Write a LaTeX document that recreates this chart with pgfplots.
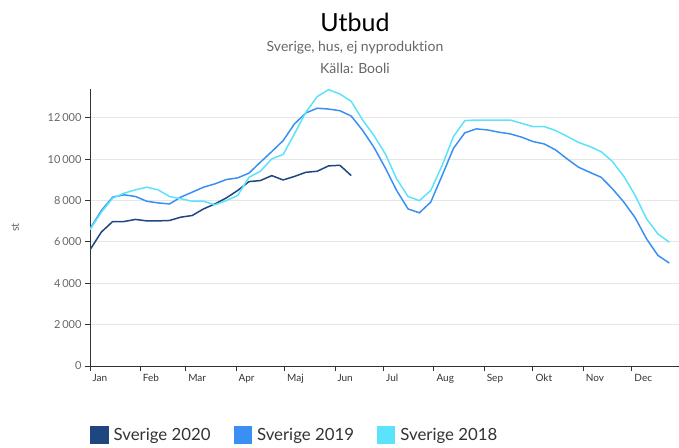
\documentclass[border=0pt]{standalone}
\usepackage{fontspec}
\setmainfont{Lato}[Ligatures={NoCommon,NoDiscretionary,NoRare}]
\usepackage{pgfplots}
\usepackage{pgfplotstable}
\pgfplotsset{compat=1.18}
\definecolor{c2020}{HTML}{1F467F}
\definecolor{c2019}{HTML}{3A90F2}
\definecolor{c2018}{HTML}{5BE3FC}
\definecolor{axisc}{HTML}{333333}
\definecolor{gridc}{HTML}{E6E6E6}
\definecolor{labc}{HTML}{666666}

\pgfplotstableread{
x y
0 5620
7 6480
14 6990
21 6990
28 7090
35 7020
42 7020
49 7040
56 7200
63 7280
70 7600
77 7840
84 8130
91 8490
98 8920
105 8970
112 9210
119 9000
126 9170
133 9370
140 9420
147 9680
154 9710
161 9210
}\sverigeA

\pgfplotstableread{
x y
0 6640
7 7520
14 8170
21 8280
28 8200
35 7970
42 7890
49 7840
56 8170
63 8410
70 8650
77 8810
84 9020
91 9100
98 9330
105 9860
112 10370
119 10900
126 11710
133 12240
140 12470
147 12430
154 12350
161 12090
168 11400
175 10580
182 9580
189 8490
196 7600
203 7410
210 7930
217 9210
224 10530
231 11280
238 11470
245 11420
252 11310
259 11230
266 11070
273 10860
280 10740
287 10450
294 10020
301 9620
308 9370
315 9130
322 8570
329 7930
336 7170
343 6150
350 5350
357 4980
}\sverigeB

\pgfplotstableread{
x y
0 6600
7 7440
14 8120
21 8360
28 8520
35 8650
42 8520
49 8200
56 8090
63 7970
70 7970
77 7800
84 8000
91 8250
98 9130
105 9420
112 10020
119 10230
126 11230
133 12270
140 13030
147 13370
154 13160
161 12800
168 11900
175 11150
182 10260
189 9050
196 8200
203 8000
210 8490
217 9700
224 11100
231 11870
238 11900
245 11900
252 11900
259 11900
266 11740
273 11580
280 11580
287 11390
294 11110
301 10820
308 10620
315 10370
322 9890
329 9170
336 8250
343 7120
350 6390
357 5990
}\sverigeC

\begin{document}
\begin{tikzpicture}
\path[use as bounding box] (0pt,0pt) rectangle (679pt,447pt);
\begin{axis}[
  at={(90pt,81pt)}, anchor=south west,
  scale only axis, width=589pt, height=277pt,
  xmin=0, xmax=363, ymin=0, ymax=13400,
  axis x line=bottom, axis y line=left,
  axis line style={-, color=axisc, line width=1pt},
  tick align=outside, major tick length=5pt,
  tick style={color=axisc, line width=1pt},
  xtick={0,31,59,90,120,151,181,212,243,273,304,334},
  xticklabels={Jan,Feb,Mar,Apr,Maj,Jun,Jul,Aug,Sep,Okt,Nov,Dec},
  xticklabel style={anchor=north west, xshift=-1pt, font=\fontsize{10}{12}\selectfont, color=axisc},
  ytick={0,2000,4000,6000,8000,10000,12000},
  yticklabel style={font=\fontsize{11}{13}\selectfont, color=labc},
  /pgf/number format/assume math mode=true,
  /pgf/number format/1000 sep={\,},
  scaled y ticks=false,
  ymajorgrids, major grid style={color=gridc, line width=1pt},
  ylabel={st},
  ylabel style={at={(axis description cs:-0.127,0.5)}, anchor=center, font=\fontsize{11}{13}\selectfont, color=labc},
  legend image code/.code={\fill[#1] (0pt,-8pt) rectangle (17pt,8pt);},
  legend columns=3,
  legend style={at={(axis description cs:0,-0.249)}, anchor=west, draw=none, fill=none, inner sep=0pt,
    font=\fontsize{16.8}{19}\selectfont, text=axisc,
    nodes={inner sep=2pt},
    /tikz/every odd column/.append style={column sep=3pt},
    /tikz/every even column/.append style={column sep=21pt}},
]
\addplot[color=c2020, line width=1.5pt, mark=none] table {\sverigeA};
\addlegendentry{Sverige 2020}
\addplot[color=c2019, line width=1.5pt, mark=none] table {\sverigeB};
\addlegendentry{Sverige 2019}
\addplot[color=c2018, line width=1.5pt, mark=none] table {\sverigeC};
\addlegendentry{Sverige 2018}
\end{axis}
\node[font=\fontsize{25}{30}\selectfont, color=black] at (355pt,425pt) {Utbud};
\node[font=\fontsize{14}{17}\selectfont, color=labc] at (355pt,399pt) {Sverige, hus, ej nyproduktion};
\node[font=\fontsize{14}{17}\selectfont, color=labc] at (355pt,379pt) {Källa: Booli};
\end{tikzpicture}
\end{document}
